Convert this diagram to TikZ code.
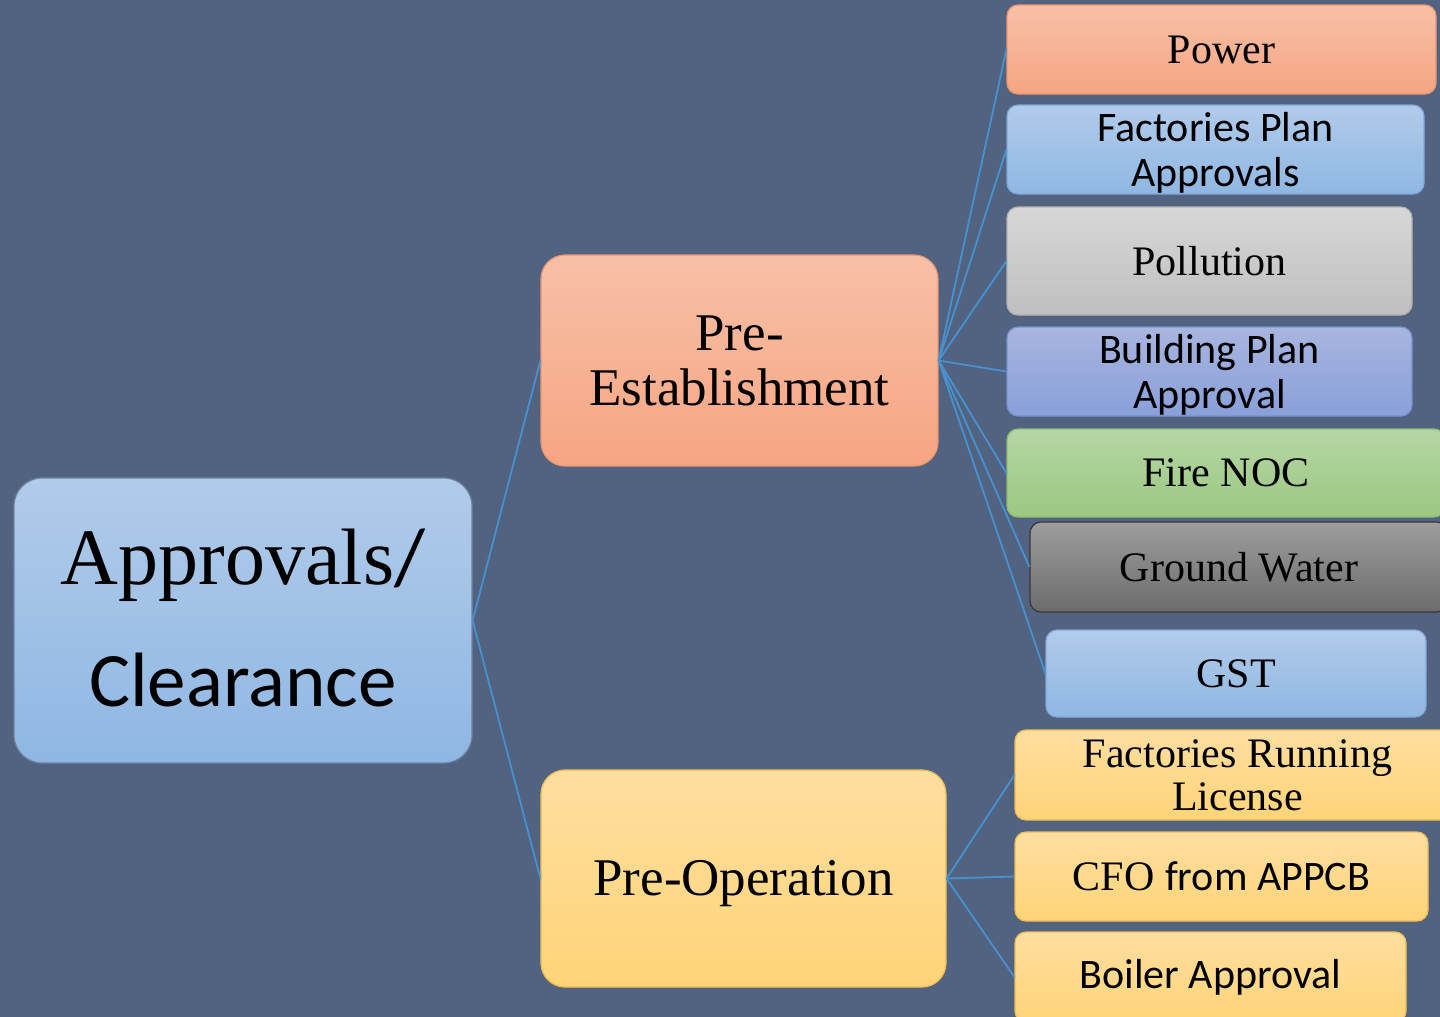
\documentclass[tikz,border=0pt]{standalone}
\usepackage{fontspec}
\setmainfont{Liberation Serif}
\newfontfamily\calib{Carlito}
\definecolor{bg}{RGB}{81,99,128}
\definecolor{edgeblue}{RGB}{72,145,208}
\definecolor{orT}{RGB}{248,192,167}
\definecolor{orB}{RGB}{246,165,130}
\definecolor{orD}{RGB}{236,150,112}
\definecolor{blT}{RGB}{177,203,234}
\definecolor{blB}{RGB}{143,183,227}
\definecolor{blD}{RGB}{128,168,215}
\definecolor{grT}{RGB}{215,215,215}
\definecolor{grB}{RGB}{191,191,191}
\definecolor{grD}{RGB}{178,178,178}
\definecolor{puT}{RGB}{168,181,223}
\definecolor{puB}{RGB}{137,160,217}
\definecolor{puD}{RGB}{122,145,205}
\definecolor{gnT}{RGB}{182,214,165}
\definecolor{gnB}{RGB}{155,200,129}
\definecolor{gnD}{RGB}{140,188,112}
\definecolor{dgT}{RGB}{157,157,157}
\definecolor{dgB}{RGB}{108,108,108}
\definecolor{dgD}{RGB}{55,55,55}
\definecolor{yeT}{RGB}{255,222,160}
\definecolor{yeB}{RGB}{255,212,120}
\definecolor{yeD}{RGB}{238,190,80}
\definecolor{rootD}{RGB}{110,130,160}
\newcommand{\lowerby}[2]{\raisebox{-#1}[\height][\depth]{#2}}
\tikzset{
  box/.style={rectangle, align=center, inner sep=0pt, text=black, line width=1.2pt},
  leaf/.style={box, rounded corners=11pt},
  orangebox/.style={top color=orT, bottom color=orB, draw=orD},
  bluebox/.style={top color=blT, bottom color=blB, draw=blD},
  graybox/.style={top color=grT, bottom color=grB, draw=grD},
  purplebox/.style={top color=puT, bottom color=puB, draw=puD},
  greenbox/.style={top color=gnT, bottom color=gnB, draw=gnD},
  darkbox/.style={top color=dgT, bottom color=dgB, draw=dgD},
  yellowbox/.style={top color=yeT, bottom color=yeB, draw=yeD},
  conn/.style={draw=edgeblue, line width=1.8pt},
  small/.style={font=\fontsize{42}{45}\selectfont},
  smallsans/.style={font=\fontsize{42}{45}\selectfont\calib}
}
\begin{document}
\begin{tikzpicture}[x=1pt,y=-1pt]
\useasboundingbox (0,0) rectangle (1440,1017);
\clip (0,0) rectangle (1440,1017);
\fill[bg] (0,0) rectangle (1440,1017);

% root
\node[box, bluebox, draw=rootD, rounded corners=28pt, minimum width=458pt, minimum height=285pt,
      font=\fontsize{80}{122}\selectfont] (root) at (243,620.5)
      {\lowerby{-3pt}{Approvals{\calib /}}\\{\calib\fontsize{77}{122}\selectfont\lowerby{-3pt}{Clearance}}};

% level 1
\node[box, orangebox, rounded corners=24pt, minimum width=397pt, minimum height=211pt,
      font=\fontsize{53}{55}\selectfont] (pe) at (739.5,360.5) {Pre-\\Establishment};
\node[box, yellowbox, rounded corners=24pt, minimum width=405pt, minimum height=217pt,
      font=\fontsize{53}{55}\selectfont] (po) at (743.5,878.5) {\lowerby{5pt}{Pre-Operation}};

% level 2 (pre-establishment)
\node[leaf, orangebox, small, minimum width=429pt, minimum height=89pt] (power) at (1221.5,49.5) {Power};
\node[leaf, bluebox, smallsans, minimum width=417pt, minimum height=89pt] (fpa) at (1215.5,149.5) {\lowerby{3pt}{Factories Plan}\\\lowerby{3pt}{Approvals}};
\node[leaf, graybox, small, minimum width=405pt, minimum height=108pt] (poll) at (1209.5,261) {Pollution};
\node[leaf, purplebox, smallsans, minimum width=405pt, minimum height=89pt] (bpa) at (1209.5,371.5) {\lowerby{3pt}{Building Plan}\\\lowerby{3pt}{Approval}};
\node[leaf, greenbox, small, minimum width=438pt, minimum height=88pt] (fire) at (1226,473) {Fire NOC};
\node[leaf, darkbox, small, minimum width=418pt, minimum height=90pt] (gw) at (1239,567) {Ground Water};
\node[leaf, bluebox, small, minimum width=380pt, minimum height=87pt] (gst) at (1236,673.5) {GST};

% level 2 (pre-operation)
\node[leaf, yellowbox, minimum width=445pt, minimum height=90pt, font=\fontsize{42}{43}\selectfont] (frl) at (1237.5,775) {Factories Running\\License};
\node[leaf, yellowbox, small, minimum width=413pt, minimum height=89pt] (cfo) at (1221.5,876.5) {CFO {\calib from APPCB}};
\node[leaf, yellowbox, smallsans, minimum width=391pt, minimum height=90pt] (boil) at (1210.5,977) {Boiler Approval};

% connectors
\draw[conn] (root.east) -- (pe.west);
\draw[conn] (root.east) -- (po.west);
\foreach \t in {power,fpa,poll,bpa,fire,gw,gst} {\draw[conn] (pe.east) -- (\t.west);}
\foreach \t in {frl,cfo,boil} {\draw[conn] (po.east) -- (\t.west);}
\end{tikzpicture}
\end{document}
